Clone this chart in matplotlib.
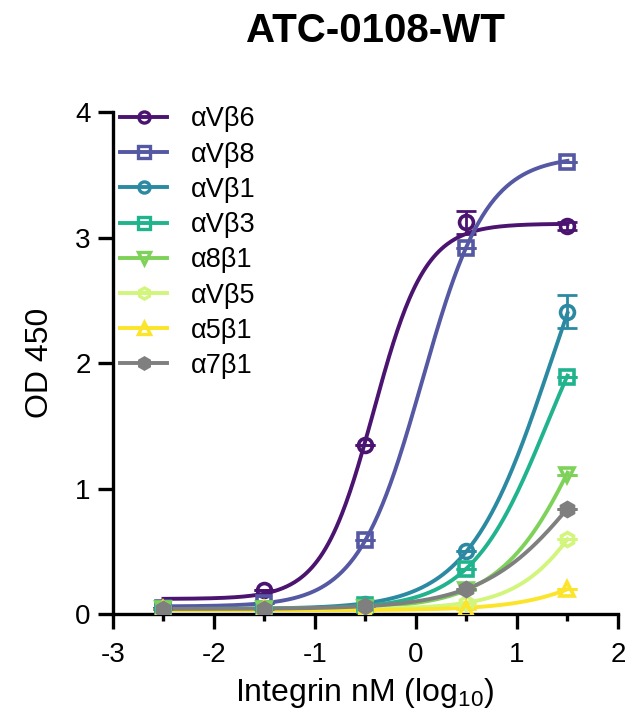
import matplotlib
matplotlib.use('Agg')
import matplotlib.pyplot as plt
import numpy as np

plt.rcParams['font.family'] = ['Liberation Sans', 'DejaVu Sans']
plt.rcParams['mathtext.default'] = 'regular'
plt.rcParams['axes.unicode_minus'] = False

# log10 integrin concentration (nM)
log_conc = [-2.5, -1.5, -0.5, 0.5, 1.5]

labels = ['αVβ6', 'αVβ8', 'αVβ1', 'αVβ3', 'α8β1', 'αVβ5', 'α5β1', 'α7β1']
colors = ['#4a1470', '#5558a2', '#2b8aa2', '#20b38e', '#7ed25a', '#d2f57c', '#fbe42a', '#7f7f7f']
markers = ['o', 's', 'o', 's', 'v', 'h', '^', 'h']
filled = [False, False, False, False, False, False, False, True]

# OD 450 means
od_avb6 = [0.05, 0.19, 1.35, 3.12, 3.09]
od_avb8 = [0.05, 0.09, 0.59, 2.92, 3.60]
od_avb1 = [0.04, 0.04, 0.08, 0.50, 2.41]
od_avb3 = [0.04, 0.04, 0.07, 0.36, 1.89]
od_a8b1 = [0.04, 0.04, 0.05, 0.19, 1.11]
od_avb5 = [0.04, 0.04, 0.05, 0.09, 0.60]
od_a5b1 = [0.04, 0.04, 0.02, 0.04, 0.20]
od_a7b1 = [0.04, 0.04, 0.06, 0.20, 0.84]
od = [od_avb6, od_avb8, od_avb1, od_avb3, od_a8b1, od_avb5, od_a5b1, od_a7b1]

# error bars (SEM), only visible ones
sem_avb6 = [0, 0, 0, 0.09, 0.03]
sem_avb1 = [0, 0, 0, 0, 0.13]
sem = [sem_avb6, [0]*5, sem_avb1, [0]*5, [0]*5, [0]*5, [0]*5, [0]*5]

# 4PL fit parameters (bottom, top, logEC50, hill) estimated from the curves
bottom = [0.12, 0.06, 0.04, 0.04, 0.04, 0.04, 0.03, 0.04]
top = [3.11, 3.65, 4.0, 3.0, 3.0, 2.0, 1.0, 2.0]
log_ec50 = [-0.42, 0.06, 1.34, 1.30, 1.73, 1.84, 2.18, 1.68]
hill = [1.7, 1.36, 1.05, 1.14, 1.03, 1.18, 1.0, 0.89]

fig = plt.figure(figsize=(6.33, 7.25), dpi=100)
ax = fig.add_axes([0.1785, 0.1531, 0.7978, 0.6924])

xs = np.linspace(log_conc[0], log_conc[-1], 300)
for i in range(len(labels)):
    curve = bottom[i] + (top[i] - bottom[i]) / (1 + 10 ** ((log_ec50[i] - xs) * hill[i]))
    ax.plot(xs, curve, color=colors[i], lw=2.8, zorder=2 + i * 0.1)
    ax.errorbar(log_conc, od[i], yerr=sem[i], fmt='none', ecolor=colors[i],
                elinewidth=2, capsize=7, capthick=2, zorder=2 + i * 0.1)
    ax.plot(log_conc, od[i], linestyle='none', marker=markers[i], ms=10,
            mec=colors[i], mew=2.6, mfc=colors[i] if filled[i] else 'none',
            zorder=3 + i * 0.1)
    ax.plot([], [], color=colors[i], lw=2.8, marker=markers[i], ms=8,
            mec=colors[i], mew=2.4, mfc=colors[i] if filled[i] else 'none',
            label=labels[i])

ax.set_xlim(-3, 2)
ax.set_ylim(0, 4)
ax.set_xticks([-3, -2, -1, 0, 1, 2])
ax.set_xticks([-2.5, -1.5, -0.5, 0.5, 1.5], minor=True)
ax.set_yticks([0, 1, 2, 3, 4])
ax.spines['top'].set_visible(False)
ax.spines['right'].set_visible(False)
for s in ['left', 'bottom']:
    ax.spines[s].set_linewidth(2.4)
ax.tick_params(which='major', length=11, width=2.4, labelsize=20)
ax.tick_params(axis='x', which='major', pad=9)
ax.tick_params(axis='y', which='major', pad=5)
ax.tick_params(which='minor', length=5, width=2.4)

leg = ax.legend(loc='upper left', frameon=False, fontsize=19.5, handlelength=1.75,
                labelspacing=0.34, handletextpad=0.87, borderaxespad=0,
                borderpad=0, bbox_to_anchor=(0.014, 1.011))

fig.text(375 / 633, 0.957, 'ATC-0108-WT', ha='center', va='center',
         fontsize=29, fontweight='bold')
fig.text(40 / 633, 1 - 363 / 725, 'OD 450', rotation=90, ha='center',
         va='center', fontsize=23)
fig.text(365 / 633, 1 - 693 / 725, 'Integrin nM (log$_{10}$)', ha='center',
         va='center', fontsize=23)

fig.savefig('out.png', dpi=100)
